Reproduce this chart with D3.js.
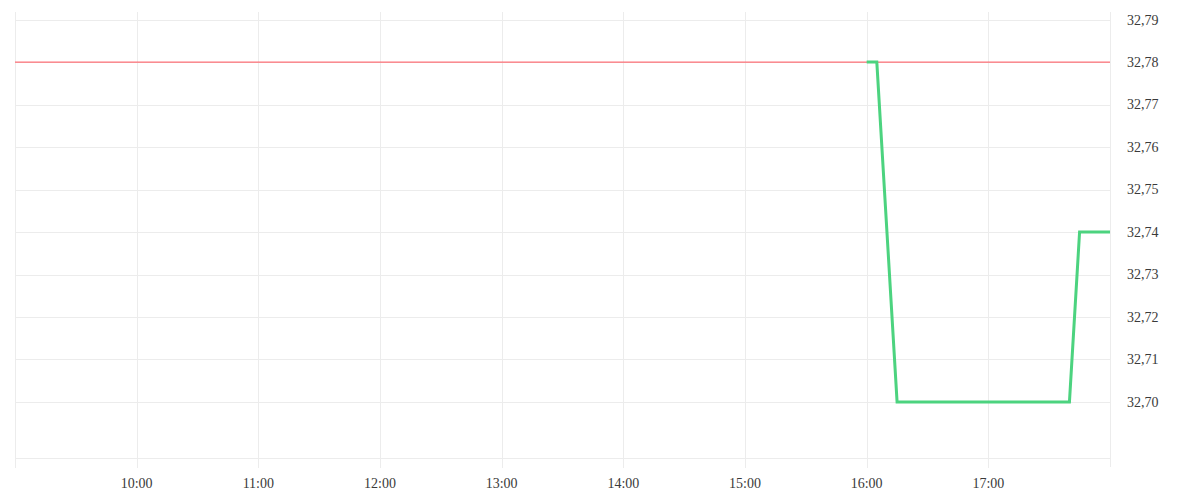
<!DOCTYPE html>
<html>
<head>
<meta charset="utf-8">
<script src="https://cdn.jsdelivr.net/npm/d3@7"></script>
<style>
  body { margin: 0; background: #fff; }
  svg text { font-family: "Liberation Serif", serif; font-size: 14px; fill: #3a3a3a; }
</style>
</head>
<body>
<div id="chart"></div>
<script>
// data
var priceTimes = ["16:00", "16:05", "16:15", "17:40", "17:45", "18:00"];
var priceValues = [32.78, 32.78, 32.70, 32.70, 32.74, 32.74];
var referenceValue = 32.78;
var yTicks = [32.70, 32.71, 32.72, 32.73, 32.74, 32.75, 32.76, 32.77, 32.78, 32.79];
var xTickLabels = ["10:00", "11:00", "12:00", "13:00", "14:00", "15:00", "16:00", "17:00"];
var dayStart = "09:00", dayEnd = "18:00";

var width = 1200, height = 500;
var plotLeft = 15, plotRight = 1110, plotTop = 12, plotBottom = 458;

var parse = d3.timeParse("%H:%M");

var svg = d3.select("#chart").append("svg")
  .attr("width", width)
  .attr("height", height);

var x = d3.scaleTime()
  .domain([parse(dayStart), parse(dayEnd)])
  .range([plotLeft, plotRight]);

var y = d3.scaleLinear()
  .domain([32.6868, 32.7918])
  .range([plotBottom, plotTop]);

// horizontal grid
svg.append("g")
  .selectAll("line").data(yTicks.concat([y.domain()[0]]))
  .join("line")
  .attr("x1", plotLeft).attr("x2", plotRight)
  .attr("y1", d => Math.round(y(d)) + 0.5)
  .attr("y2", d => Math.round(y(d)) + 0.5)
  .attr("stroke", "#ececec");

// vertical grid + ticks
var xTicks = [parse(dayStart)].concat(xTickLabels.map(parse));
svg.append("g")
  .selectAll("line").data(xTicks)
  .join("line")
  .attr("x1", d => Math.round(x(d)) + 0.5)
  .attr("x2", d => Math.round(x(d)) + 0.5)
  .attr("y1", plotTop).attr("y2", plotBottom + 10)
  .attr("stroke", "#ececec");

// right axis line
svg.append("line")
  .attr("x1", plotRight + 0.5).attr("x2", plotRight + 0.5)
  .attr("y1", plotTop).attr("y2", plotBottom + 9)
  .attr("stroke", "#ececec");

// y axis labels
svg.append("g")
  .selectAll("text").data(yTicks)
  .join("text")
  .attr("x", plotRight + 17)
  .attr("y", d => y(d))
  .attr("dy", "0.35em")
  .text(d => d3.format(".2f")(d).replace(".", ","));

// x axis labels
svg.append("g")
  .selectAll("text").data(xTickLabels)
  .join("text")
  .attr("x", d => x(parse(d)))
  .attr("y", plotBottom + 30)
  .attr("text-anchor", "middle")
  .text(d => d);

// reference line
svg.append("line")
  .attr("x1", plotLeft).attr("x2", plotRight)
  .attr("y1", y(referenceValue)).attr("y2", y(referenceValue))
  .attr("stroke", "#ff4f58")
  .attr("stroke-width", 1);

// price line
var line = d3.line()
  .x((d, i) => x(parse(priceTimes[i])))
  .y(d => y(d));

svg.append("path")
  .datum(priceValues)
  .attr("d", line)
  .attr("fill", "none")
  .attr("stroke", "#4cd37f")
  .attr("stroke-width", 3)
  .attr("stroke-linejoin", "miter");
</script>
</body>
</html>
